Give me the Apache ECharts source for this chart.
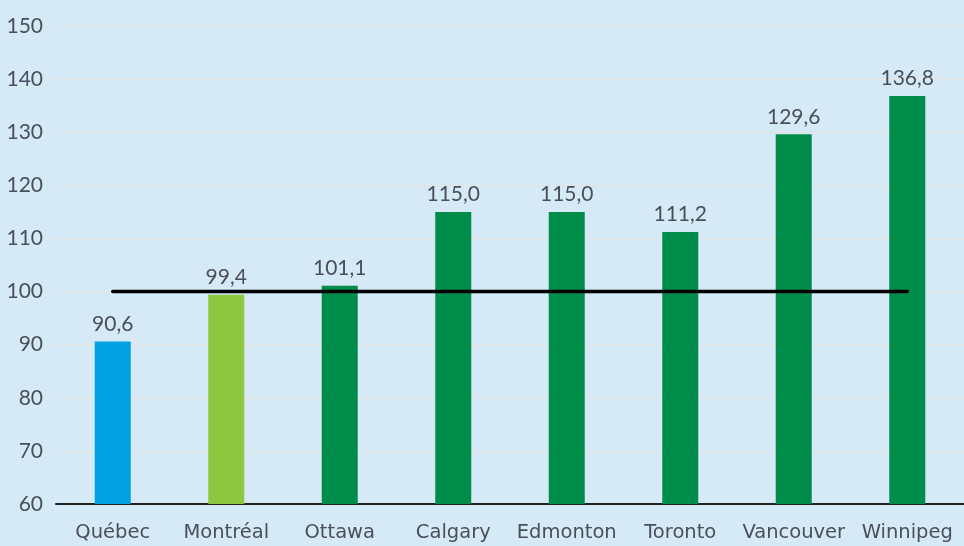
<!DOCTYPE html>
<html><head><meta charset="utf-8">
<script src="https://cdn.jsdelivr.net/npm/echarts@6/dist/echarts.min.js"></script>
<style>html,body{margin:0;padding:0;background:#d5e9f7}#c{width:964px;height:546px}</style>
</head><body><div id="c"></div>
<script>
const categories = ['Québec','Montréal','Ottawa','Calgary','Edmonton','Toronto','Vancouver','Winnipeg'];
const values = [90.6, 99.4, 101.1, 115.0, 115.0, 111.2, 129.6, 136.8];
const barColors = ['#00a0e3','#8dc63f','#008c4a','#008c4a','#008c4a','#008c4a','#008c4a','#008c4a'];
const reference = [100,100,100,100,100,100,100,100];
const yMin = 60, yMax = 150, yStep = 10;

const chart = echarts.init(document.getElementById('c'), null, {renderer:'canvas'});
const numFont = 'Lato, "Open Sans", sans-serif';
const catFont = '"DejaVu Sans", "Open Sans", sans-serif';
chart.setOption({
  backgroundColor:'#d5e9f7',
  animation:false,
  grid:{left:56, top:26, bottom:42, right:-4, containLabel:false},
  xAxis:{type:'category', data:categories,
    axisLine:{lineStyle:{color:'#222', width:2}}, axisTick:{show:false},
    axisLabel:{color:'#4a5058', fontSize:19.5, fontFamily:catFont, margin:19, interval:0}},
  yAxis:{type:'value', min:yMin, max:yMax, interval:yStep,
    axisLine:{show:false}, axisTick:{show:false},
    axisLabel:{color:'#4a5058', fontSize:21, fontFamily:numFont, margin:13},
    splitLine:{lineStyle:{color:'#e0e4e4', width:1.5}}},
  series:[
    {type:'bar', data:values.map((v,i)=>({value:v, itemStyle:{color:barColors[i]}})),
     barWidth:36,
     label:{show:true, position:'top', distance:7, color:'#4a5058', fontSize:21, fontFamily:numFont,
       formatter:p=>p.value.toFixed(1).replace('.',',')}},
    {type:'line', data:reference, symbol:'none', z:5,
     lineStyle:{color:'#000', width:3.5, cap:'round'}, silent:true}
  ]
});
</script></body></html>
